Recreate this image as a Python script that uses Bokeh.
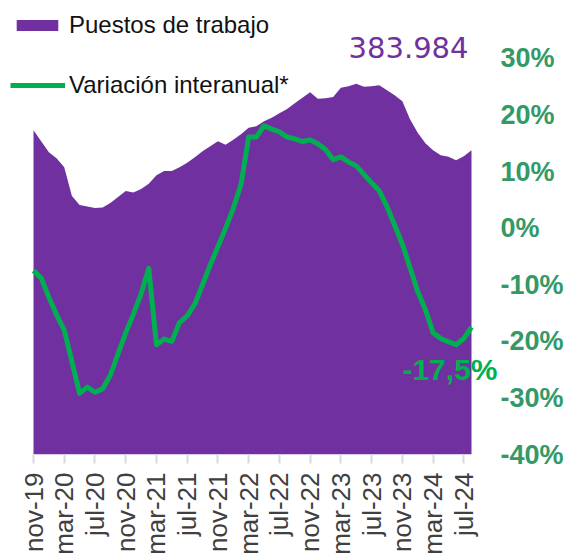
import math
from bokeh.plotting import figure
from bokeh.models import (Range1d, LinearAxis, FixedTicker, PrintfTickFormatter,
                          Legend, LegendItem)
from bokeh.core.properties import value
from bokeh.embed import file_html
from bokeh.resources import INLINE

meses = ["nov-19", "dic-19",
         "ene-20", "feb-20", "mar-20", "abr-20", "may-20", "jun-20", "jul-20", "ago-20", "sep-20", "oct-20", "nov-20", "dic-20",
         "ene-21", "feb-21", "mar-21", "abr-21", "may-21", "jun-21", "jul-21", "ago-21", "sep-21", "oct-21", "nov-21", "dic-21",
         "ene-22", "feb-22", "mar-22", "abr-22", "may-22", "jun-22", "jul-22", "ago-22", "sep-22", "oct-22", "nov-22", "dic-22",
         "ene-23", "feb-23", "mar-23", "abr-23", "may-23", "jun-23", "jul-23", "ago-23", "sep-23", "oct-23", "nov-23", "dic-23",
         "ene-24", "feb-24", "mar-24", "abr-24", "may-24", "jun-24", "jul-24", "ago-24"]

puestos = [409300, 395500, 381600, 374000, 362700, 326200, 314900, 313000, 311100, 311700,
           317400, 324900, 332500, 330600, 335000, 341900, 352600, 357700, 357700, 362700,
           368400, 375300, 382900, 389200, 395500, 391000, 397300, 404300, 412500, 414300,
           420600, 425000, 430700, 436100, 443300, 450200, 457200, 449000, 449600, 451200,
           462800, 464700, 467900, 464100, 464700, 466000, 459700, 453400, 445800, 423200,
           406200, 392900, 384100, 377800, 375700, 371500, 376600, 383984]

variacion = [-7.5, -8.8, -12.2, -15.3, -18.0, -23.6, -29.2, -28.1, -29.0, -28.4,
             -26.0, -22.2, -18.5, -15.2, -11.6, -7.1, -20.6, -19.6, -20.0, -16.7,
             -15.5, -13.4, -10.0, -6.5, -3.3, 0.0, 3.5, 7.7, 16.1, 16.1,
             18.1, 17.5, 17.0, 16.1, 15.8, 15.3, 15.6, 14.9, 13.9, 12.1,
             12.6, 11.7, 11.0, 9.5, 8.0, 6.6, 3.8, 0.5, -2.8, -7.0,
             -11.2, -14.4, -18.5, -19.5, -20.1, -20.6, -19.5, -17.5]

tick_labels = ["nov-19", "mar-20", "jul-20", "nov-20", "mar-21", "jul-21", "nov-21", "mar-22",
               "jul-22", "nov-22", "mar-23", "jul-23", "nov-23", "mar-24", "jul-24"]
pct_ticks = [-40, -30, -20, -10, 0, 10, 20, 30]

idx = list(range(len(meses)))
tick_idx = [meses.index(t) for t in tick_labels]

PURPLE = "#7030A0"
GREEN = "#00B050"
AXGREEN = "#339966"

# layout (pixels)
W, H = 569, 557
FRAME_W, FRAME_H = 500, 455
DATA_LEFT, DATA_RIGHT = 33, 471          # where the first / last month sit
PX_TOP_TICK = 58                          # pixel row of the 30% label
px_per_month = (DATA_RIGHT - DATA_LEFT) / (len(meses) - 1)
x_start = -DATA_LEFT / px_per_month
x_end = x_start + FRAME_W / px_per_month
pct_span = (pct_ticks[-1] - pct_ticks[0]) * FRAME_H / (FRAME_H - PX_TOP_TICK)
left_top = 500000 * FRAME_H / (FRAME_H - PX_TOP_TICK)

p = figure(width=W, height=H, output_backend="svg", toolbar_location=None,
           x_range=Range1d(x_start, x_end), y_range=Range1d(0, left_top),
           y_axis_location=None,
           min_border_left=0, min_border_right=W - FRAME_W, min_border_top=0,
           min_border_bottom=H - FRAME_H)
p.extra_y_ranges = {"pct": Range1d(pct_ticks[0], pct_ticks[0] + pct_span)}
p.outline_line_color = None
p.xgrid.visible = False
p.ygrid.visible = False

area = p.varea(x=idx, y1=0, y2=puestos, fill_color=PURPLE)
line = p.line(x=idx, y=variacion, y_range_name="pct", line_color=GREEN,
              line_width=5, line_join="round")

ax = LinearAxis(y_range_name="pct", ticker=FixedTicker(ticks=pct_ticks),
                formatter=PrintfTickFormatter(format="%d%%"),
                axis_line_color=None, major_tick_line_color=None, minor_tick_line_color=None,
                major_tick_in=0, major_tick_out=0,
                major_label_standoff=0, major_label_text_font="Liberation Sans",
                major_label_text_font_style="bold", major_label_text_font_size="27px",
                major_label_text_color=AXGREEN)
p.add_layout(ax, "right")

xa = p.xaxis[0]
xa.ticker = FixedTicker(ticks=tick_idx)
xa.major_label_overrides = {i: t for i, t in zip(tick_idx, tick_labels)}
xa.major_label_orientation = math.pi / 2
xa.axis_line_color = None
xa.major_tick_line_color = "#D9D9D9"
xa.major_tick_line_width = 2
xa.major_tick_in = 0
xa.major_tick_out = 9
xa.minor_tick_line_color = None
xa.major_label_standoff = 9
xa.major_label_text_font = "Liberation Sans"
xa.major_label_text_font_size = "26px"
xa.major_label_text_color = "#404040"

common = dict(border_line_color=None, background_fill_alpha=0, padding=0, margin=0,
              label_text_font="Liberation Sans", label_text_font_size="24px",
              label_text_color="#111111", glyph_height=14)
leg1 = Legend(items=[LegendItem(label="Puestos de trabajo", renderers=[area])],
              location=(11, 415), glyph_width=52, label_standoff=6, **common)
leg2 = Legend(items=[LegendItem(label="Variación interanual*", renderers=[line])],
              location=(10, 355), glyph_width=55, label_standoff=4, **common)
p.add_layout(leg1)
p.add_layout(leg2)

p.text(x=[idx[-1]], y=[puestos[-1]], text=[f"{puestos[-1]:,}".replace(",", ".")],
       text_align="right", text_baseline="middle", x_offset=-3, y_offset=-103,
       text_font=value("DejaVu Sans"), text_font_size="29px", text_color=PURPLE)
p.text(x=[idx[-1]], y=[variacion[-1]], y_range_name="pct",
       text=[f"{variacion[-1]:.1f}%".replace(".", ",")],
       text_align="right", text_baseline="middle", x_offset=26, y_offset=42,
       text_font=value("Liberation Sans"), text_font_style="bold",
       text_font_size="30px", text_color=GREEN)

open("out.html", "w").write(file_html(p, INLINE))
